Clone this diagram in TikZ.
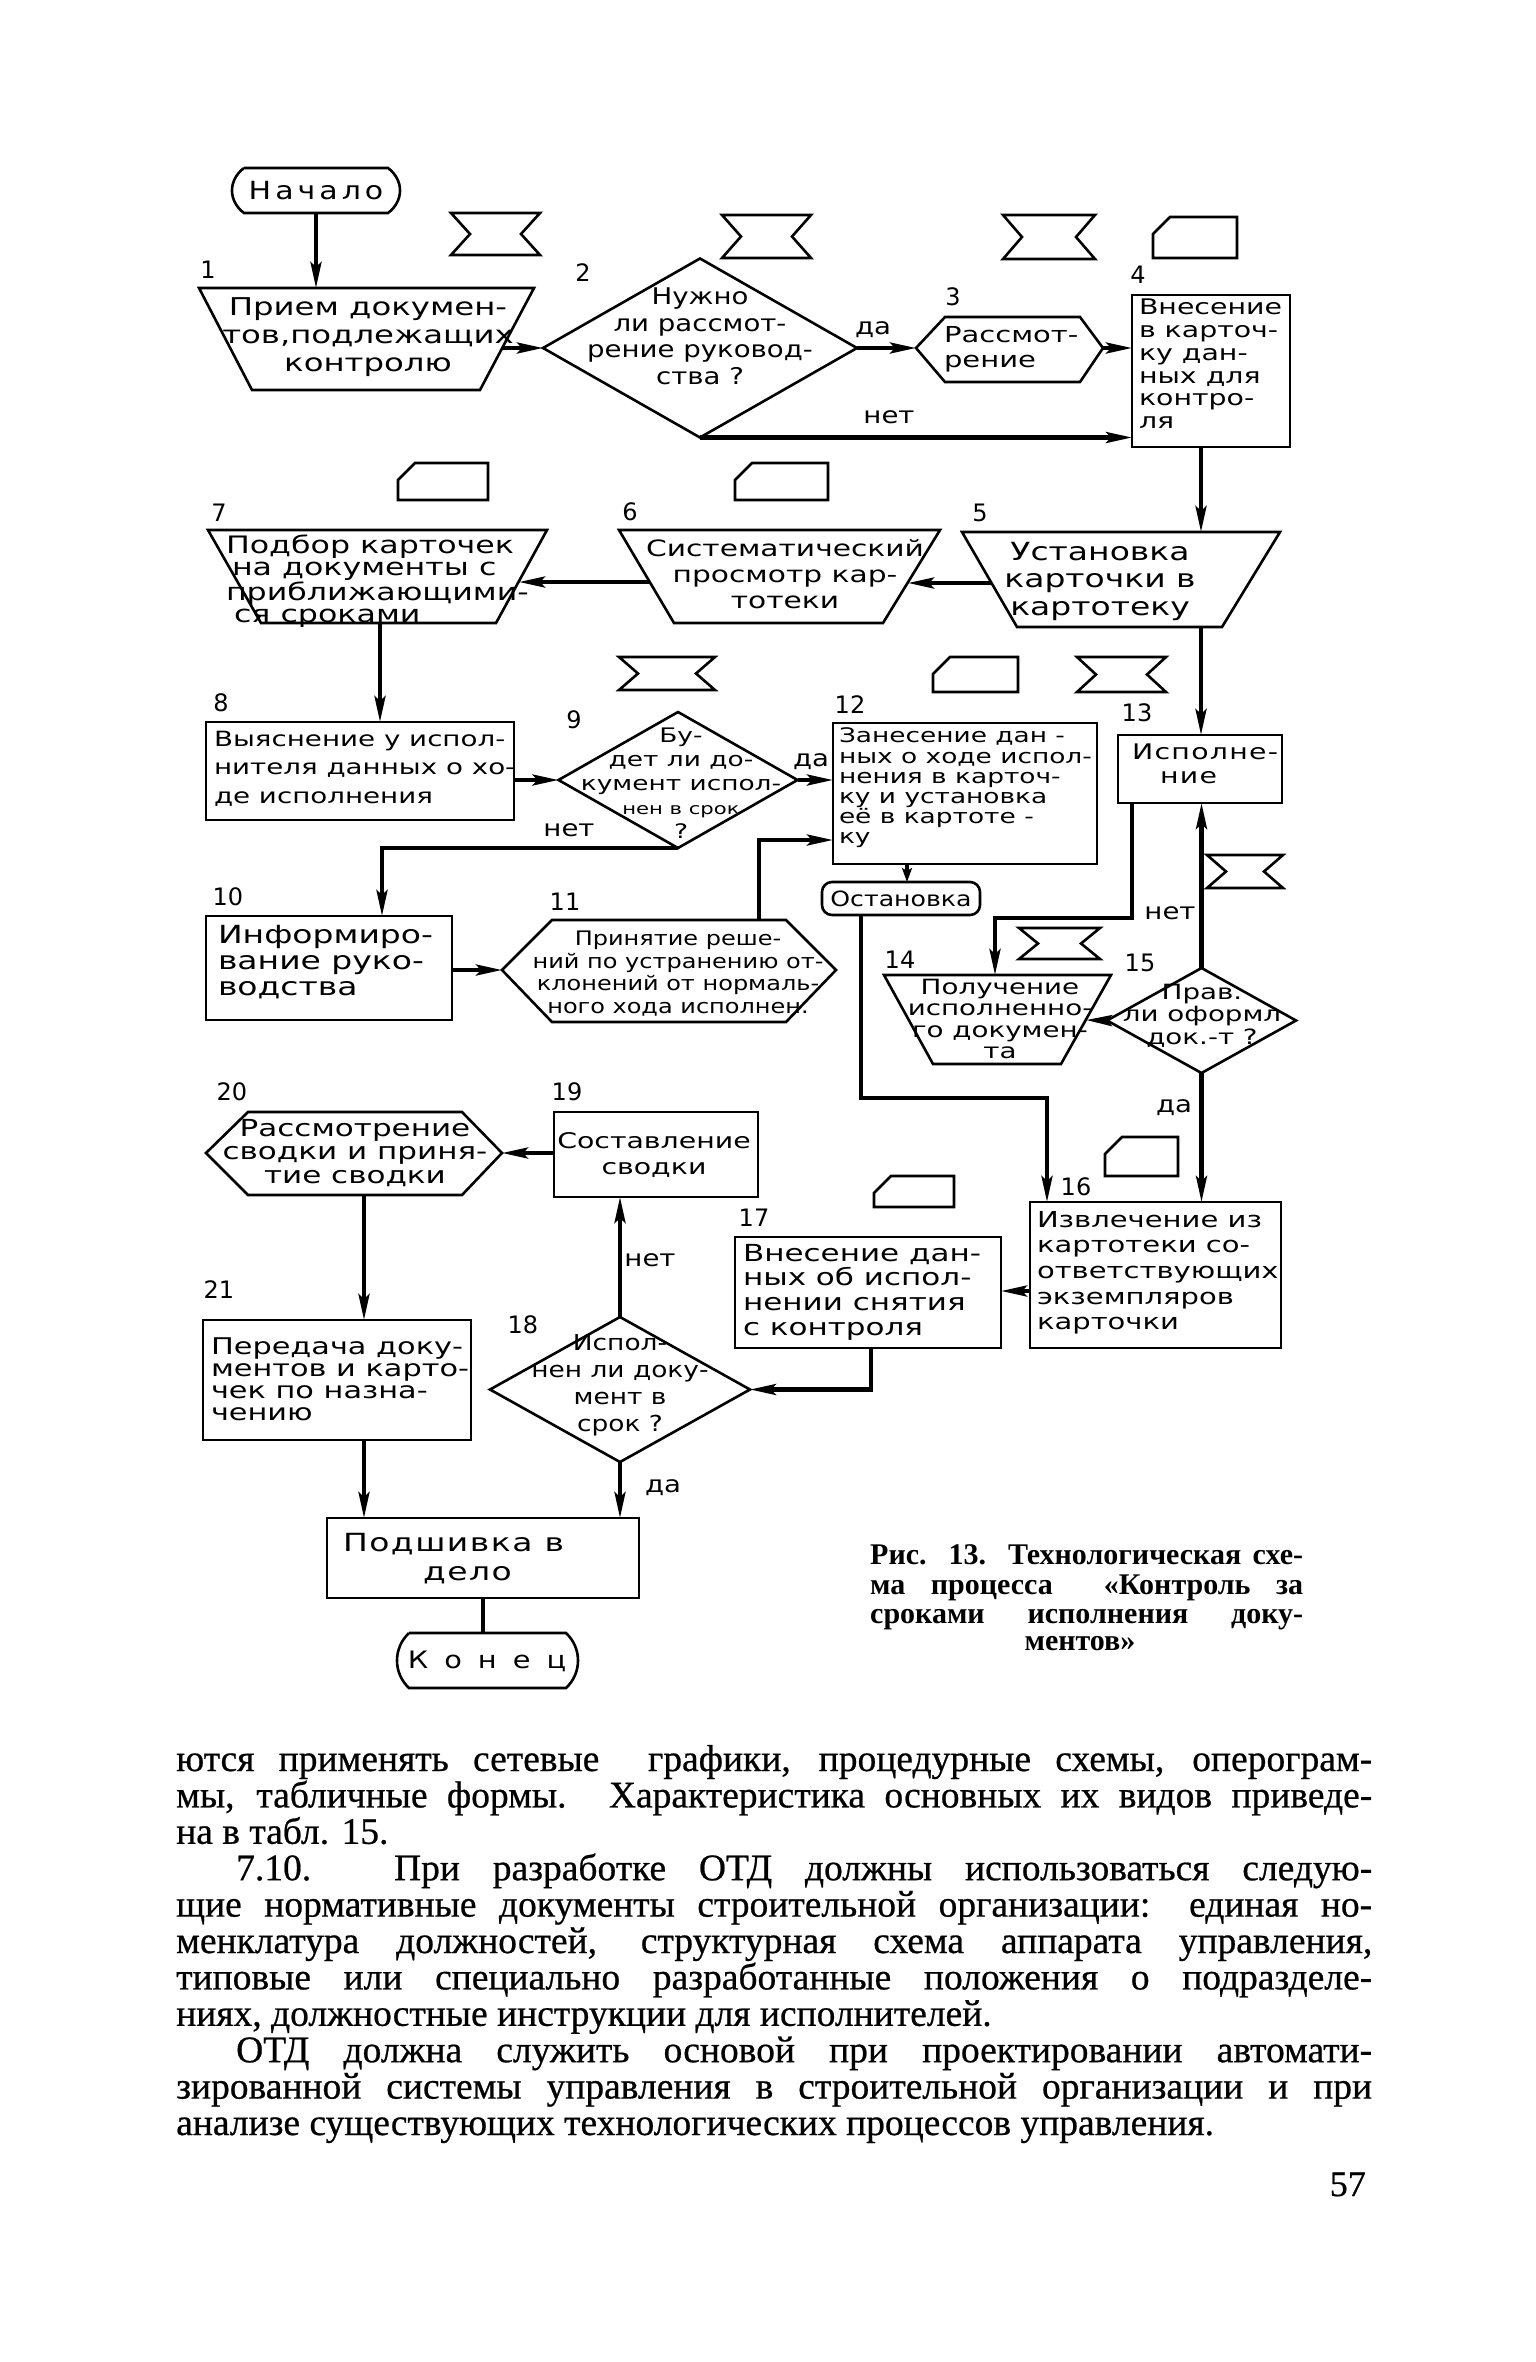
\documentclass[tikz,border=0pt]{standalone}
\usepackage{fontspec}
\usetikzlibrary{arrows.meta,shapes.geometric}
\newfontfamily\df[FakeStretch=1.2]{DejaVu Sans}
\newfontfamily\dfw[FakeStretch=1.32]{DejaVu Sans}
\newfontfamily\dfl[FakeStretch=1.32,LetterSpace=6]{DejaVu Sans}
\newfontfamily\dfd{DejaVu Sans}
\newfontfamily\bodyf[FakeStretch=1.0,FakeBold=0.6]{Liberation Serif}
\newfontfamily\capf{Liberation Serif}
\newcommand\dsz[2]{\fontsize{#1}{#2}\selectfont}
\newcommand\hgl[4]{\draw[outl] (#1,#3) -- (#2,#3) -- ({#2-19},{(#3+#4)/2}) -- (#2,#4) -- (#1,#4) -- ({#1+19},{(#3+#4)/2}) -- cycle;}
\newcommand\crd[4]{\draw[outl] (#1,#4) -- (#1,{#3+17}) -- ({#1+17},#3) -- (#2,#3) -- (#2,#4) -- cycle;}
\tikzset{
  outl/.style={line width=2.6pt, line join=miter},
  conn/.style={line width=4.2pt},
  arr/.style={conn,-{Stealth[length=26pt,width=11pt,inset=5pt]}},
  sarr/.style={conn,-{Stealth[length=14pt,width=10pt,inset=3pt]}},
  box/.style={draw,outl,rectangle,inner sep=0pt,outer sep=0pt},
  dia/.style={draw,outl,diamond,inner sep=0pt,outer sep=0pt},
  tx/.style={inner sep=0pt,outer sep=0pt},
  num/.style={inner sep=0pt,font=\dfd\dsz{24}{24}},
  yn/.style={inner sep=0pt,font=\df\dsz{23}{23}},
  bl/.style={anchor=base west,inner sep=0pt,font=\bodyf\dsz{37.5}{36}},
  cl/.style={anchor=base west,inner sep=0pt,font=\capf\bfseries\dsz{30}{30}},
}
\begin{document}
\begin{tikzpicture}[x=1pt,y=-1pt]
\fill[white] (0,0) rectangle (1536,2362);
\useasboundingbox (0,0) rectangle (1536,2362);

% ---------- small symbols ----------
\hgl{451}{540}{213}{255}
\hgl{722}{811}{215}{258}
\hgl{1003}{1095}{215}{259}
\hgl{619}{715}{657}{690}
\hgl{1077}{1166}{657}{692}
\hgl{1207}{1283}{855}{888}
\hgl{1019}{1100}{928}{959}
\crd{1153}{1237}{217}{258}
\crd{398}{488}{463}{500}
\crd{735}{828}{463}{500}
\crd{933}{1018}{657}{692}
\crd{1105}{1178}{1137}{1176}
\crd{874}{954}{1176}{1207}

% ---------- number labels ----------
\node[num] (l1) at (208,270) {1};
\node[num] (l2) at (583,273) {2};
\node[num] (l3) at (953,297) {3};
\node[num] (l4) at (1138,275) {4};
\node[num] (l5) at (980,513) {5};
\node[num] (l6) at (630,512) {6};
\node[num] (l7) at (219,513) {7};
\node[num] (l8) at (221,703) {8};
\node[num] (l9) at (574,720) {9};
\node[num] (l10) at (228,897) {10};
\node[num] (l11) at (565,902) {11};
\node[num] (l12) at (850,705) {12};
\node[num] (l13) at (1137,713) {13};
\node[num] (l14) at (900,960) {14};
\node[num] (l15) at (1140,963) {15};
\node[num] (l16) at (1076,1187) {16};
\node[num] (l17) at (754,1218) {17};
\node[num] (l18) at (523,1325) {18};
\node[num] (l19) at (567,1092) {19};
\node[num] (l20) at (232,1092) {20};
\node[num] (l21) at (219,1290) {21};

% ---------- terminals ----------
\draw[outl] (244,168) -- (388,168) .. controls (404,180) and (404,201) .. (388,213) -- (244,213) .. controls (228,201) and (228,180) .. (244,168);
\node[tx,font=\df\dsz{25}{25}] (start) at (316,191) {Н\hspace{4pt}а\hspace{4pt}ч\hspace{4pt}а\hspace{4pt}л\hspace{4pt}о};
\coordinate (startS) at (316,213);

\draw[outl,rounded corners=10pt] (822,882) rectangle (980,915);
\node[tx,font=\df\dsz{21}{21}] (stop) at (901,899) {Остановка};
\coordinate (stopN) at (907,882);
\coordinate (stopS) at (861,915);

\draw[outl] (409,1633) -- (566,1633) .. controls (582,1648) and (582,1673) .. (566,1688) -- (409,1688) .. controls (393,1673) and (393,1648) .. (409,1633);
\node[tx,font=\df\dsz{24}{24}] (end) at (487,1661) {К\hspace{16pt}о\hspace{16pt}н\hspace{16pt}е\hspace{16pt}ц};
\coordinate (endN) at (483,1633);

% ---------- polygon blocks ----------
\draw[outl] (199,288) -- (534,288) -- (480,390) -- (252,390) -- cycle;
\coordinate (t1N) at (316,288); \coordinate (t1E) at (502,348);
\node[tx,font=\dfw\dsz{24.5}{28},align=center,anchor=north] (n1) at (368,298) {Прием докумен-\\тов,подлежащих\\контролю};

\draw[outl] (916,348) -- (945,317) -- (1080,317) -- (1103,348) -- (1080,382) -- (945,382) -- cycle;
\coordinate (h3W) at (916,348); \coordinate (h3E) at (1103,348);
\node[tx,font=\dfw\dsz{22}{25},align=left,anchor=north west] (n3) at (944,326) {Рассмот-\\рение};

\draw[outl] (962,532) -- (1280,532) -- (1222,627) -- (1017,627) -- cycle;
\coordinate (t5N) at (1201,532); \coordinate (t5S) at (1201,627); \coordinate (t5W) at (991,583);
\node[tx,font=\dfw\dsz{25}{27.5},align=center,anchor=north] (n5) at (1100,542) {Установка\\карточки в\\картотеку};

\draw[outl] (619,530) -- (940,530) -- (883,623) -- (674,623) -- cycle;
\coordinate (t6E) at (908,583); \coordinate (t6W) at (650,582);
\node[tx,font=\dfw\dsz{22.5}{26},align=center,anchor=north] (n6) at (785,539) {Систематический\\просмотр кар-\\тотеки};

\draw[outl] (208,530) -- (547,530) -- (496,623) -- (261,623) -- cycle;
\coordinate (t7E) at (519,582); \coordinate (t7S) at (380,623);
\node[tx,font=\dfw\dsz{24}{22},align=left,anchor=north west] (n7) at (226,535) {Подбор карточек\\\hspace*{6pt}на документы с\\приближающими-\\\hspace*{8pt}ся сроками};

\draw[outl] (502,970) -- (552,920) -- (786,920) -- (836,970) -- (786,1022) -- (552,1022) -- cycle;
\coordinate (h11W) at (502,970); \coordinate (h11N) at (759,920);
\node[tx,font=\df\dsz{20}{22.5},align=center,anchor=north] (n11) at (678,931) {Принятие реше-\\ний по устранению от-\\клонений от нормаль-\\ного хода исполнен.};

\draw[outl] (884,975) -- (1111,975) -- (1061,1064) -- (933,1064) -- cycle;
\coordinate (t14N) at (995,975); \coordinate (t14E) at (1086,1020);
\node[tx,font=\dfw\dsz{21}{21.5},align=center,anchor=north] (n14) at (1000,979) {Получение\\исполненно-\\го докумен-\\та};

\draw[outl] (206,1153) -- (248,1112) -- (462,1112) -- (502,1153) -- (462,1195) -- (248,1195) -- cycle;
\coordinate (h20E) at (502,1153); \coordinate (h20S) at (364,1195);
\node[tx,font=\dfw\dsz{23.5}{23.5},align=center,anchor=north] (n20) at (355,1119) {Рассмотрение\\сводки и приня-\\тие сводки};

% ---------- rectangles ----------
\node[box,minimum width=158pt,minimum height=152pt] (b4) at (1211,371) {};
\node[tx,font=\dfw\dsz{21.5}{22.8},align=left,anchor=north west] (n4) at (1139,299) {Внесение\\в карточ-\\ку дан-\\ных для\\контро-\\ля};
\node[box,minimum width=308pt,minimum height=98pt] (b8) at (360,771) {};
\node[tx,font=\dfw\dsz{21}{28.5},align=left,anchor=north west] (n8) at (214,731) {Выяснение у испол-\\нителя данных о хо-\\де исполнения};
\node[box,minimum width=246pt,minimum height=104pt] (b10) at (329,968) {};
\node[tx,font=\dfw\dsz{25}{26},align=left,anchor=north west] (n10) at (218,925) {Информиро-\\вание руко-\\водства};
\node[box,minimum width=264pt,minimum height=141pt] (b12) at (965,793.5) {};
\node[tx,font=\dfw\dsz{20}{20.2},align=left,anchor=north west] (n12) at (839,728) {Занесение дан -\\ных о ходе испол-\\нения в карточ-\\ку и установка\\её в картоте -\\ку};
\node[box,minimum width=164pt,minimum height=68pt] (b13) at (1200,769) {};
\node[tx,font=\dfl\dsz{21.5}{24},align=left,anchor=north west] (n13) at (1132,744) {Исполне-\\\hspace*{28pt}ние};
\node[box,minimum width=251pt,minimum height=146pt] (b16) at (1155.5,1275) {};
\node[tx,font=\dfw\dsz{22}{25.7},align=left,anchor=north west] (n16) at (1037,1211) {Извлечение из\\картотеки со-\\ответствующих\\экземпляров\\карточки};
\node[box,minimum width=266pt,minimum height=111pt] (b17) at (868,1292.5) {};
\node[tx,font=\dfw\dsz{23.5}{24.7},align=left,anchor=north west] (n17) at (743,1244) {Внесение дан-\\ных об испол-\\нении снятия\\с контроля};
\node[box,minimum width=204pt,minimum height=85pt] (b19) at (656,1154.5) {};
\node[tx,font=\dfw\dsz{21.5}{26},align=center,anchor=north] (n19) at (654,1133) {Составление\\сводки};
\node[box,minimum width=268pt,minimum height=120pt] (b21) at (337,1380) {};
\node[tx,font=\dfw\dsz{23}{22},align=left,anchor=north west] (n21) at (211,1338) {Передача доку-\\ментов и карто-\\чек по назна-\\чению};
\node[box,minimum width=312pt,minimum height=80pt] (b22) at (483,1558) {};
\node[tx,font=\dfl\dsz{25}{29},align=left,anchor=north west] (n22) at (343,1533) {Подшивка в\\\hspace*{80pt}дело};

% ---------- diamonds ----------
\node[dia,minimum width=314pt,minimum height=179pt] (d2) at (700,348) {};
\node[tx,font=\df\dsz{23}{26.5},align=center,anchor=north] (n2) at (700,288) {Нужно\\ли рассмот-\\рение руковод-\\ства ?};
\node[dia,minimum width=239pt,minimum height=136pt] (d9) at (678,780) {};
\node[tx,font=\dfw\dsz{20}{24},align=center,anchor=north] (n9) at (681,728) {Бу-\\дет ли до-\\кумент испол-\\{\dsz{16}{19}нен в срок}\\?};
\node[dia,minimum width=189pt,minimum height=105pt] (d15) at (1201.5,1020.5) {};
\node[tx,font=\dfw\dsz{21}{22.5},align=center,anchor=north] (n15) at (1202,984) {Прав.\\ли оформл\\док.-т ?};
\node[dia,minimum width=260pt,minimum height=145pt] (d18) at (620,1389.5) {};
\node[tx,font=\df\dsz{22}{27},align=center,anchor=north] (n18) at (620,1334) {Испол-\\нен ли доку-\\мент в\\срок ?};

% ---------- connector helper coordinates ----------
\coordinate (k10) at (382,916);
\coordinate (k12) at (833,840);
\coordinate (k13) at (1132,918);
\coordinate (k16) at (1047,1098);
\coordinate (k17) at (1015,1291);
\coordinate (k18) at (871,1389.5);

% ---------- connectors ----------
\draw[arr] (startS) -- (t1N);
\draw[arr] (t1E) -- (d2.west);
\draw[arr] (d2.east) -- (h3W);
\draw[arr] (h3E) -- (h3E -| b4.west);
\draw[arr] (d2.south) -- (d2.south -| b4.west);
\draw[arr] ([xshift=-10pt]b4.south) -- (t5N);
\draw[arr] (t5W) -- (t6E);
\draw[arr] (t6W) -- (t7E);
\draw[arr] (t7S) -- (t7S |- b8.north);
\draw[arr] (d9.west -| b8.east) -- (d9.west);
\draw[arr] (d9.east) -- (d9.east -| b12.west);
\draw[arr] (d9.south) -| (k10);
\draw[arr] (b10.east |- h11W) -- (h11W);
\draw[arr] (h11N) |- (k12);
\draw[sarr] (stopN |- b12.south) -- (stopN);
\draw[arr] (t5S) -- (t5S |- b13.north);
\draw[arr] (k13 |- b13.south) -- (k13) -| (t14N);
\draw[arr] (d15.north) -- (d15.north |- b13.south);
\draw[arr] (d15.west) -- (t14E);
\draw[arr] (d15.south) -- (d15.south |- b16.north);
\draw[arr] (stopS) |- (k16) -- (k16 |- b16.north);
\draw[arr] (b16.west |- k17) -- (b17.east |- k17);
\draw[arr] (k18 |- b17.south) -- (k18) -- (d18.east);
\draw[arr] (d18.north) -- (d18.north |- b19.south);
\draw[arr] (b19.west |- h20E) -- (h20E);
\draw[arr] (h20S) -- (h20S |- b21.north);
\draw[arr] (h20S |- b21.south) -- (h20S |- b22.north);
\draw[arr] (d18.south) -- (d18.south |- b22.north);
\draw[conn] (b22.south) -- (endN);

% ---------- yes / no labels ----------
\node[yn] (y2) at (873,330) {да};
\node[yn] (no2) at (889,417) {нет};
\node[yn] (y9) at (811,762) {да};
\node[yn] (no9) at (569,830) {нет};
\node[yn] (no15) at (1170,913) {нет};
\node[yn] (y15) at (1174,1108) {да};
\node[yn] (no18) at (650,1260) {нет};
\node[yn] (y18) at (663,1488) {да};

% ---------- caption ----------
\node[cl] (c1) at (870,1564) {\makebox[433pt][s]{Рис. 13. Технологическая схе-}};
\node[cl] (c2) at (870,1594) {\makebox[433pt][s]{ма процесса \ «Контроль за}};
\node[cl] (c3) at (870,1623) {\makebox[433pt][s]{сроками исполнения доку-}};
\node[cl,anchor=base] (c4) at (1080,1650) {ментов»};

% ---------- body text ----------
\node[bl] (p1) at (176,1771) {\makebox[1196pt][s]{ются применять сетевые \ графики, процедурные схемы, оперограм-}};
\node[bl] (p2) at (176,1807.4) {\makebox[1196pt][s]{мы, табличные формы. Характеристика основных их видов приведе-}};
\node[bl] (p3) at (176,1843.8) {на в табл. 15.};
\node[bl] (p4) at (236,1880.2) {\makebox[1136pt][s]{7.10. При разработке ОТД должны использоваться следую-}};
\node[bl] (p5) at (176,1916.6) {\makebox[1196pt][s]{щие нормативные документы строительной организации: единая но-}};
\node[bl] (p6) at (176,1953) {\makebox[1196pt][s]{менклатура должностей, структурная схема аппарата управления,}};
\node[bl] (p7) at (176,1989.4) {\makebox[1196pt][s]{типовые или специально разработанные положения о подразделе-}};
\node[bl] (p8) at (176,2025.8) {ниях, должностные инструкции для исполнителей.};
\node[bl] (p9) at (236,2062.2) {\makebox[1136pt][s]{ОТД должна служить основой при проектировании автомати-}};
\node[bl] (p10) at (176,2098.6) {\makebox[1196pt][s]{зированной системы управления в строительной организации и при}};
\node[bl] (p11) at (176,2135) {анализе существующих технологических процессов управления.};
\node[bl,anchor=base east,font=\bodyf\dsz{36}{36}] (pg) at (1366,2196) {57};
\end{tikzpicture}
\end{document}
